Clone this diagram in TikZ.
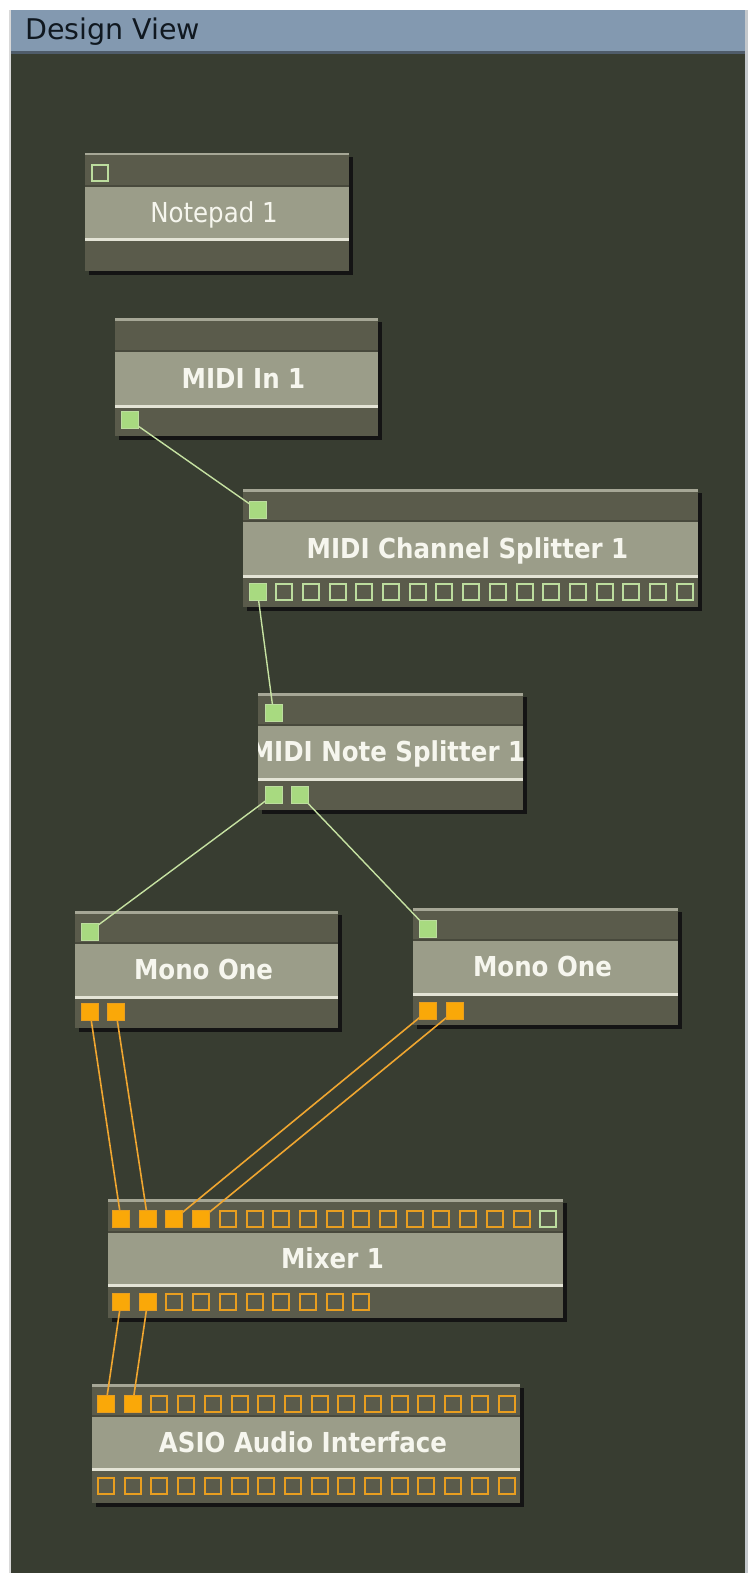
\documentclass[tikz,border=0pt]{standalone}
\usepackage{fontspec}
\setmainfont{DejaVu Sans}
\definecolor{panel}{HTML}{383D31}
\definecolor{titlebar}{HTML}{8399B0}
\definecolor{titletext}{HTML}{101820}
\definecolor{boxdark}{HTML}{5A5B4B}
\definecolor{hdrline}{HTML}{48493C}
\definecolor{band}{HTML}{9B9D89}
\definecolor{toplight}{HTML}{A6A796}
\definecolor{sepline}{HTML}{E4E4D6}
\definecolor{lbltext}{HTML}{F6F6EE}
\definecolor{pgreen}{HTML}{A8DA80}
\definecolor{pgreenedge}{HTML}{BCDD9E}
\definecolor{porange}{HTML}{FAA808}
\definecolor{porangeedge}{HTML}{E89E20}
\definecolor{gwirec}{HTML}{C6E2A2}
\definecolor{owirec}{HTML}{F0A630}
\definecolor{rborder}{HTML}{C4C8CC}
\pgfdeclarelayer{bg}
\pgfdeclarelayer{wires}
\pgfsetlayers{bg,wires,main}
\newcommand\modbox[8]{%
  \pgfmathsetmacro\mbw{#4-#2}%
  \pgfmathsetmacro\mbh{#5-#3}%
  \fill[shadowc] ({#2+4},{#3+4}) rectangle ({#4+4},{#5+4});
  \node[modbody, minimum width=\mbw pt, minimum height=\mbh pt] (#1) at (#2,#3) {};
  \fill[toplight] (#2,#3) rectangle (#4,{#3+2.5});
  \fill[hdrline] (#2,{#6-2}) rectangle (#4,#6);
  \fill[band] (#2,#6) rectangle (#4,#7);
  \fill[sepline] (#2,#7) rectangle (#4,{#7+2.5});
  \begin{scope}
    \clip (#2,#6) rectangle (#4,#7);
    \node[lbl] (#1-label) at ({(#2+#4)/2-3},{(#6+#7)/2}) {\scalebox{1}[1.12]{#8}};
  \end{scope}}
\begin{document}
\begin{tikzpicture}[x=1pt,y=-1pt,
  shadowc/.style={fill=black!92},
  modbody/.style={rectangle, fill=boxdark, draw=none, inner sep=0pt, anchor=north west},
  lbl/.style={text=lbltext, font=\bfseries\fontsize{24.5}{26}\selectfont, inner sep=0pt, text height=19.6pt, text depth=0pt},
  title/.style={text=titletext, font=\fontsize{28.5}{30}\selectfont, inner sep=0pt, anchor=west},
  gport/.style={rectangle, fill=pgreen, draw=pgreenedge, line width=1pt, minimum size=17pt, inner sep=0pt},
  gopen/.style={rectangle, fill=boxdark, draw=pgreenedge, line width=2pt, minimum size=16pt, inner sep=0pt},
  oport/.style={rectangle, fill=porange, draw=porangeedge, line width=1pt, minimum size=17pt, inner sep=0pt},
  oopen/.style={rectangle, fill=boxdark, draw=porangeedge, line width=2pt, minimum size=16pt, inner sep=0pt},
  gwire/.style={draw=gwirec, line width=1.4pt},
  owire/.style={draw=owirec, line width=1.6pt}]
\useasboundingbox (0,0) rectangle (752,1573);
\begin{pgfonlayer}{bg}
  \fill[white] (0,0) rectangle (752,1573);
  \fill[panel] (10,10) rectangle (746,1573);
  \fill[titlebar] (10,10) rectangle (746,53);
  \fill[black!40!titlebar] (10,51) rectangle (746,54);
  \fill[rborder] (745,10) rectangle (748,1573);
  \fill[black!15] (9,10) rectangle (10.5,1573);
  \node[title] (title) at (25,32) {Design View};
  % modules
  \modbox{np}{85}{153}{349}{271}{187}{238}{\mdseries Notepad 1}
  \modbox{mi}{115}{318}{378}{436}{352}{405}{MIDI In 1}
  \modbox{cs}{243}{489}{698}{607}{522}{575}{MIDI Channel Splitter 1}
  \modbox{ns}{258}{693}{523}{810}{726}{778}{MIDI Note Splitter 1}
  \modbox{ml}{75}{911}{338}{1028}{944}{996}{Mono One}
  \modbox{mr}{413}{908}{678}{1025}{941}{993}{Mono One}
  \modbox{mx}{108}{1199}{563}{1318}{1233}{1284}{Mixer 1}
  \modbox{asio}{92}{1384}{520}{1503}{1417}{1468}{ASIO Audio Interface}
\end{pgfonlayer}
% ports
\node[gopen] (np-i) at (100,173) {};
\node[gport] (mi-o) at (129.5,420) {};
\node[gport] (cs-i) at (257.5,509.5) {};
\node[gport] (cs-o0) at (257.5,592) {};
\foreach \i in {1,...,16} \node[gopen] (cs-o\i) at ({257.5+26.7*\i},592) {};
\node[gport] (ns-i) at (273.5,712.5) {};
\node[gport] (ns-o1) at (273.5,795) {};
\node[gport] (ns-o2) at (300,795) {};
\node[gport] (ml-i) at (89.5,931.5) {};
\node[oport] (ml-o1) at (90,1012) {};
\node[oport] (ml-o2) at (116,1012) {};
\node[gport] (mr-i) at (427.5,928.5) {};
\node[oport] (mr-o1) at (427.5,1011) {};
\node[oport] (mr-o2) at (454.5,1011) {};
\foreach \i in {0,...,3} \node[oport] (mx-i\i) at ({121+26.7*\i},1219) {};
\foreach \i in {4,...,15} \node[oopen] (mx-i\i) at ({121+26.7*\i},1219) {};
\node[gopen] (mx-i16) at ({121+26.7*16},1219) {};
\foreach \i in {0,1} \node[oport] (mx-o\i) at ({121+26.7*\i},1301.5) {};
\foreach \i in {2,...,9} \node[oopen] (mx-o\i) at ({121+26.7*\i},1301.5) {};
\foreach \i in {0,1} \node[oport] (as-i\i) at ({106+26.7*\i},1403.5) {};
\foreach \i in {2,...,15} \node[oopen] (as-i\i) at ({106+26.7*\i},1403.5) {};
\foreach \i in {0,...,15} \node[oopen] (as-o\i) at ({106+26.7*\i},1486) {};
% wires
\begin{pgfonlayer}{wires}
  \draw[gwire] (mi-o.center) -- (cs-i.center);
  \draw[gwire] (cs-o0.center) -- (ns-i.center);
  \draw[gwire] (ns-o1.center) -- (ml-i.center);
  \draw[gwire] (ns-o2.center) -- (mr-i.center);
  \draw[owire] (ml-o1.center) -- (mx-i0.center);
  \draw[owire] (ml-o2.center) -- (mx-i1.center);
  \draw[owire] (mr-o1.center) -- (mx-i2.center);
  \draw[owire] (mr-o2.center) -- (mx-i3.center);
  \draw[owire] (mx-o0.center) -- (as-i0.center);
  \draw[owire] (mx-o1.center) -- (as-i1.center);
\end{pgfonlayer}
\end{tikzpicture}
\end{document}
